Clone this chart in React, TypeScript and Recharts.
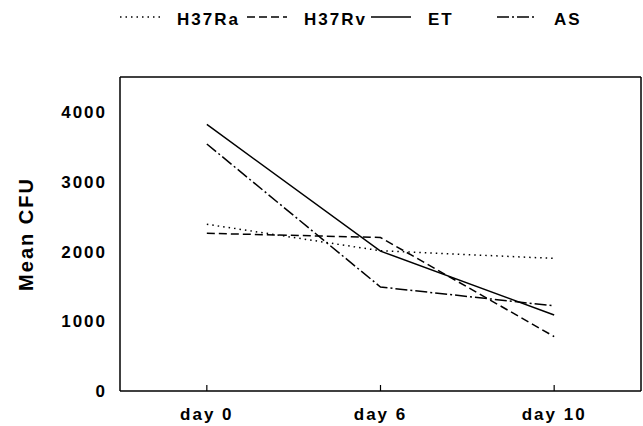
import React from 'react';
import { LineChart, Line, XAxis, YAxis, Legend, Label } from 'recharts';

const categories = ['day 0', 'day 6', 'day 10'];
const h37raValues = [2390, 2010, 1900];
const h37rvValues = [2260, 2200, 780];
const etValues = [3820, 2005, 1090];
const asValues = [3540, 1490, 1220];
const yTicks = [0, 1000, 2000, 3000, 4000];

const seriesNames = ['H37Ra', 'H37Rv', 'ET', 'AS'];
const seriesKeys = ['h37ra', 'h37rv', 'et', 'as'];
const seriesDashes = ['1.5 4', '8 4', '', '12 3 2 3'];
const legendSlots = [120, 247, 371, 497];

const data = categories.map((c, i) => ({
  day: c,
  h37ra: h37raValues[i],
  h37rv: h37rvValues[i],
  et: etValues[i],
  as: asValues[i],
}));

const FONT = '"Liberation Sans", Arial, Helvetica, sans-serif';

const XTick = (props: any) => {
  const { x, y, payload } = props;
  return (
    <g>
      <line x1={x} x2={x} y1={y} y2={y - 6} stroke="#000" strokeWidth={1.2} />
      <text x={x} y={y + 29} textAnchor="middle" fontFamily={FONT} fontWeight="bold" fontSize={17} letterSpacing={2} fill="#000">
        {payload.value}
      </text>
    </g>
  );
};

const YTick = (props: any) => {
  const { x, y, payload } = props;
  return (
    <text x={x} y={y} dy="0.36em" textAnchor="end" fontFamily={FONT} fontWeight="bold" fontSize={17} letterSpacing={2} fill="#000">
      {payload.value}
    </text>
  );
};

const renderLegend = () => (
  <svg width={643} height={34}>
    {seriesNames.map((name, i) => (
      <g key={name}>
        <line
          x1={legendSlots[i]}
          x2={legendSlots[i] + 40}
          y1={17}
          y2={17}
          stroke="#000"
          strokeWidth={1.5}
          strokeDasharray={seriesDashes[i] || undefined}
        />
        <text x={legendSlots[i] + 57} y={25} fontFamily={FONT} fontWeight="bold" fontSize={17} letterSpacing={2} fill="#000">
          {name}
        </text>
      </g>
    ))}
  </svg>
);

export default function App() {
  return (
    <div style={{ position: 'absolute', left: 0, top: 0, width: 643, height: 426, background: '#fff' }}>
      <LineChart width={643} height={426} data={data} margin={{ top: 76, right: 1, bottom: 0, left: 0 }}>
        <Legend
          layout="vertical"
          verticalAlign="middle"
          align="center"
          content={renderLegend}
          wrapperStyle={{ top: 0, left: 0, width: 643, height: 34 }}
        />
        <XAxis
          dataKey="day"
          scale="band"
          height={35}
          axisLine={{ stroke: '#000', strokeWidth: 1.5 }}
          tickLine={false}
          tickSize={0}
          tickMargin={0}
          tick={<XTick />}
          interval={0}
        />
        <XAxis
          xAxisId="top"
          dataKey="day"
          scale="band"
          orientation="top"
          height={1}
          axisLine={{ stroke: '#000', strokeWidth: 1.5 }}
          tick={false}
          tickLine={false}
        />
        <YAxis
          width={120}
          domain={[0, 4500]}
          ticks={yTicks}
          axisLine={{ stroke: '#000', strokeWidth: 1.5 }}
          tickLine={false}
          tickSize={0}
          tickMargin={13}
          tick={<YTick />}
          interval={0}
        >
          <Label
            content={(props: any) => {
              const vb = props.viewBox || {};
              const cx = 26;
              const cy = (vb.y || 0) + (vb.height || 0) / 2;
              return (
                <text
                  x={cx}
                  y={cy}
                  transform={`rotate(-90, ${cx}, ${cy})`}
                  textAnchor="middle"
                  dominantBaseline="central"
                  fontFamily={FONT}
                  fontWeight="bold"
                  fontSize={20}
                  letterSpacing={2}
                  fill="#000"
                >
                  Mean CFU
                </text>
              );
            }}
          />
        </YAxis>
        <YAxis
          yAxisId="right"
          orientation="right"
          width={1}
          domain={[0, 4500]}
          axisLine={{ stroke: '#000', strokeWidth: 1.5 }}
          tick={false}
          tickLine={false}
        />
        {seriesKeys.map((k, i) => (
          <Line
            key={k}
            dataKey={k}
            name={seriesNames[i]}
            type="linear"
            stroke="#000"
            strokeWidth={1.5}
            strokeDasharray={seriesDashes[i] || undefined}
            dot={false}
            activeDot={false}
            isAnimationActive={false}
          />
        ))}
      </LineChart>
    </div>
  );
}
